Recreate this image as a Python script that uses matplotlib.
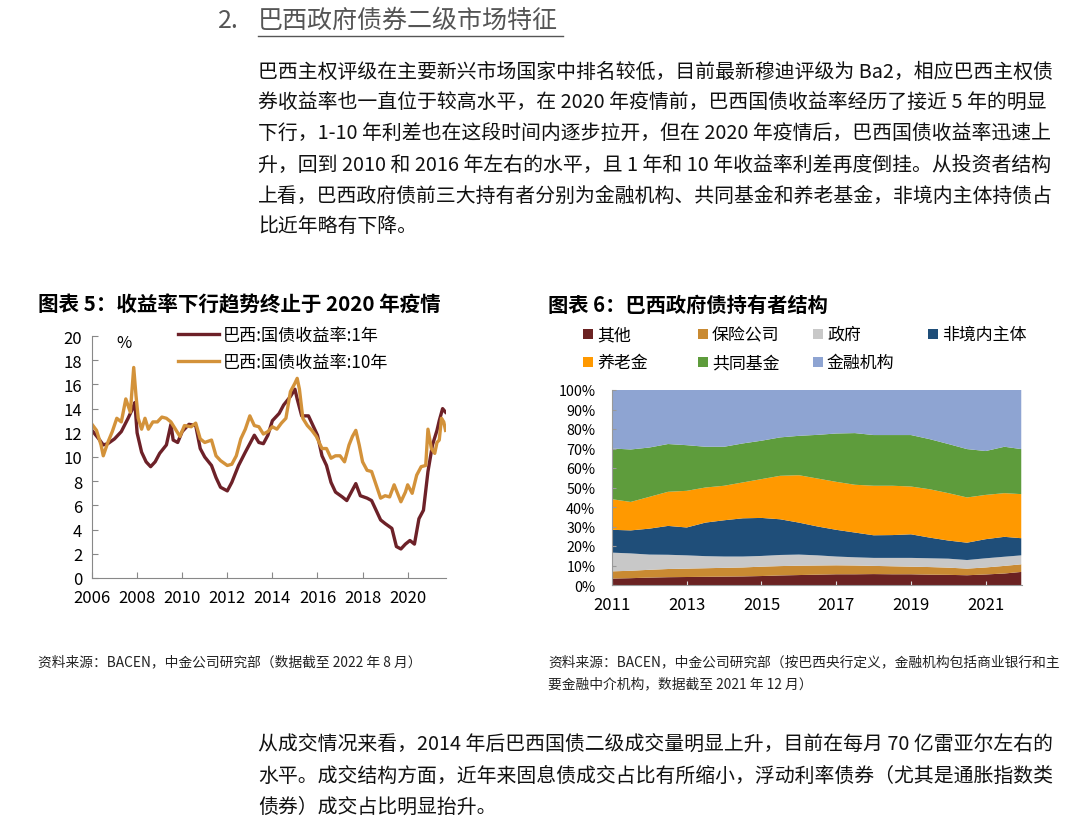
import matplotlib
matplotlib.use("Agg")
import matplotlib.pyplot as plt
from matplotlib.lines import Line2D
from matplotlib.patches import Rectangle

plt.rcParams['font.family'] = ['Noto Sans CJK SC', 'DejaVu Sans']

# ---- data: chart 5, Brazil government bond yields (%)
one_year_t = [2006.0, 2006.3, 2006.5, 2006.7, 2007.0, 2007.3, 2007.6, 2007.8, 2007.9, 2008.0,
              2008.2, 2008.4, 2008.6, 2008.8, 2009.0, 2009.3, 2009.5, 2009.6, 2009.8, 2010.0,
              2010.3, 2010.6, 2010.8, 2011.0, 2011.3, 2011.5, 2011.7, 2012.0, 2012.2, 2012.5,
              2012.8, 2013.0, 2013.2, 2013.4, 2013.6, 2013.8, 2014.0, 2014.3, 2014.5, 2014.8,
              2015.0, 2015.1, 2015.3, 2015.6, 2015.8, 2016.0, 2016.2, 2016.4, 2016.6, 2016.8,
              2017.1, 2017.3, 2017.5, 2017.7, 2017.9, 2018.2, 2018.4, 2018.6, 2018.8, 2019.0,
              2019.3, 2019.5, 2019.7, 2019.9, 2020.1, 2020.3, 2020.5, 2020.7, 2020.9, 2021.1,
              2021.3, 2021.4, 2021.55, 2021.68]
one_year = [12.2, 11.5, 11.0, 11.1, 11.5, 12.1, 13.2, 14.0, 14.5, 12.0,
            10.4, 9.6, 9.2, 9.6, 10.3, 11.0, 12.7, 11.4, 11.2, 12.1,
            12.7, 12.6, 10.7, 10.0, 9.3, 8.3, 7.5, 7.2, 7.9, 9.3,
            10.4, 11.1, 11.8, 11.2, 11.1, 11.8, 13.0, 13.6, 14.3, 15.0,
            15.6, 14.8, 13.4, 13.4, 12.6, 11.8, 10.1, 9.3, 7.9, 7.1,
            6.7, 6.4, 7.1, 7.8, 6.8, 6.6, 6.4, 5.6, 4.8, 4.5,
            4.1, 2.6, 2.4, 2.8, 3.1, 2.8, 4.9, 5.6, 8.8, 11.0,
            12.2, 13.0, 14.0, 13.7]

ten_year_t = [2006.0, 2006.2, 2006.4, 2006.5, 2006.7, 2006.9, 2007.1, 2007.3, 2007.5, 2007.7,
              2007.85, 2007.95, 2008.05, 2008.2, 2008.35, 2008.5, 2008.7, 2008.9, 2009.1, 2009.3,
              2009.5, 2009.7, 2009.9, 2010.1, 2010.4, 2010.6, 2010.8, 2011.0, 2011.3, 2011.5,
              2011.7, 2012.0, 2012.2, 2012.4, 2012.6, 2012.8, 2013.0, 2013.2, 2013.4, 2013.6,
              2013.8, 2014.0, 2014.2, 2014.4, 2014.6, 2014.8, 2015.0, 2015.1, 2015.2, 2015.35,
              2015.55, 2015.75, 2015.95, 2016.2, 2016.4, 2016.6, 2016.8, 2017.0, 2017.2, 2017.4,
              2017.55, 2017.7, 2017.85, 2018.0, 2018.2, 2018.4, 2018.6, 2018.8, 2019.0, 2019.2,
              2019.4, 2019.55, 2019.7, 2019.9, 2020.0, 2020.2, 2020.4, 2020.6, 2020.8, 2020.9,
              2021.05, 2021.2, 2021.3, 2021.4, 2021.5, 2021.6, 2021.68]
ten_year = [12.7, 12.2, 11.0, 10.1, 11.2, 12.1, 13.2, 12.9, 14.8, 13.7,
            17.4, 15.1, 13.2, 12.3, 13.2, 12.3, 12.9, 12.9, 13.3, 13.2,
            12.9, 12.3, 11.7, 12.6, 12.5, 12.8, 11.5, 11.2, 11.4, 10.1,
            9.7, 9.3, 9.4, 10.1, 11.5, 12.3, 13.4, 12.6, 12.5, 11.9,
            12.1, 12.5, 12.3, 12.8, 13.2, 15.4, 16.1, 16.5, 15.6, 13.2,
            12.6, 12.2, 11.7, 10.7, 10.7, 9.9, 10.1, 10.1, 9.6, 11.0,
            11.7, 12.2, 11.0, 9.6, 8.9, 8.8, 7.7, 6.6, 6.8, 6.7,
            7.7, 7.0, 6.3, 7.1, 7.7, 7.0, 8.5, 9.2, 9.3, 12.3,
            10.7, 10.3, 11.2, 11.4, 13.2, 12.9, 12.2]

# ---- data: chart 6, holders of Brazilian government debt (% share)
holder_t = [2011.0, 2011.5, 2012.0, 2012.5, 2013.0, 2013.5, 2014.0, 2014.5, 2015.0, 2015.5,
            2016.0, 2016.5, 2017.0, 2017.5, 2018.0, 2018.5, 2019.0, 2019.5, 2020.0, 2020.5,
            2021.0, 2021.5, 2021.95]
other = [3.3, 3.5, 3.8, 4.0, 4.1, 4.2, 4.3, 4.4, 4.6, 4.9, 5.1, 5.3, 5.5, 5.5, 5.6, 5.5,
         5.5, 5.3, 5.2, 5.0, 5.4, 5.9, 6.7]
insurance = [3.7, 3.8, 4.0, 4.2, 4.3, 4.4, 4.5, 4.6, 4.8, 4.8, 4.8, 4.7, 4.6, 4.5, 4.2, 4.1,
             3.9, 3.9, 3.7, 3.4, 3.6, 3.9, 3.9]
government = [9.6, 8.9, 7.8, 7.3, 6.8, 6.2, 5.8, 5.6, 5.5, 5.7, 5.7, 5.2, 4.5, 4.2, 4.1, 4.3,
              4.5, 4.5, 4.6, 4.4, 4.7, 4.7, 4.6]
non_resident = [11.7, 11.8, 13.3, 14.8, 14.3, 17.2, 18.6, 19.6, 19.5, 18.3, 16.4, 14.8, 13.7,
                12.7, 11.6, 11.7, 12.1, 10.6, 9.3, 8.9, 9.8, 10.2, 8.8]
pension = [15.7, 14.6, 16.3, 17.5, 18.8, 18.0, 17.7, 18.4, 19.9, 22.3, 24.3, 24.6, 24.6, 24.5,
           25.4, 25.3, 24.5, 24.8, 24.3, 23.2, 22.7, 22.4, 22.6]
mutual_fund = [26.0, 26.9, 25.3, 24.5, 23.4, 20.9, 20.0, 20.0, 19.7, 19.7, 20.2, 22.4, 24.8,
               26.5, 26.0, 26.0, 26.4, 25.7, 25.2, 24.8, 22.5, 23.8, 23.1]
financial = [30.0, 30.5, 29.5, 27.7, 28.3, 29.1, 29.1, 27.4, 26.0, 24.3, 23.5, 23.0, 22.3,
             22.1, 23.1, 23.1, 23.1, 25.2, 27.7, 30.3, 31.3, 29.1, 30.3]
holder_names = ['其他', '保险公司', '政府', '非境内主体', '养老金', '共同基金', '金融机构']
holder_colors = ['#6b2222', '#c98a32', '#c8c8c8', '#1f4e79', '#ff9900', '#5e9c3c', '#8ea4d2']

W, H = 1080, 828
fig = plt.figure(figsize=(W / 100, H / 100), dpi=100)


def fx(px):
    return px / W


def fy(py):
    return 1 - py / H


def ptext(x, y, s, size=13, **kw):
    kw.setdefault('va', 'center')
    kw.setdefault('ha', 'left')
    return fig.text(fx(x), fy(y), s, fontsize=size, **kw)


# ---- page heading and paragraphs
ptext(218, 21, '2.', size=18, color='#555555')
ptext(258, 21, '巴西政府债券二级市场特征', size=18, color='#555555')
fig.add_artist(Line2D([fx(258), fx(563)], [fy(37), fy(37)], color='#555555', lw=1))

para1 = ['巴西主权评级在主要新兴市场国家中排名较低，目前最新穆迪评级为 Ba2，相应巴西主权债',
         '券收益率也一直位于较高水平，在 2020 年疫情前，巴西国债收益率经历了接近 5 年的明显',
         '下行，1-10 年利差也在这段时间内逐步拉开，但在 2020 年疫情后，巴西国债收益率迅速上',
         '升，回到 2010 和 2016 年左右的水平，且 1 年和 10 年收益率利差再度倒挂。从投资者结构',
         '上看，巴西政府债前三大持有者分别为金融机构、共同基金和养老基金，非境内主体持债占',
         '比近年略有下降。']
for i, line in enumerate(para1):
    ptext(258, 72 + 31 * i, line, size=14.3, color='#111111')

para2 = ['从成交情况来看，2014 年后巴西国债二级成交量明显上升，目前在每月 70 亿雷亚尔左右的',
         '水平。成交结构方面，近年来固息债成交占比有所缩小，浮动利率债券（尤其是通胀指数类',
         '债券）成交占比明显抬升。']
for i, line in enumerate(para2):
    ptext(258, 745 + 31 * i, line, size=14.3, color='#111111')

# ---- chart titles and sources
ptext(38, 305, '图表 5：收益率下行趋势终止于 2020 年疫情', size=14.8, weight='bold')
ptext(548, 305, '图表 6：巴西政府债持有者结构', size=14.6, weight='bold')
ptext(38, 662, '资料来源：BACEN，中金公司研究部（数据截至 2022 年 8 月）', size=9.9, color='#222222')
ptext(548, 662, '资料来源：BACEN，中金公司研究部（按巴西央行定义，金融机构包括商业银行和主',
      size=9.9, color='#222222')
ptext(548, 684, '要金融中介机构，数据截至 2021 年 12 月）', size=9.9, color='#222222')

# ---- chart 5: yields
ax1 = fig.add_axes([fx(92), fy(579), fx(446) - fx(92), fy(337) - fy(579)])
l1 = ax1.plot(one_year_t, one_year, color='#6d2128', lw=2.4, label='巴西:国债收益率:1年')
l2 = ax1.plot(ten_year_t, ten_year, color='#d3923a', lw=2.4, label='巴西:国债收益率:10年')
ax1.set_xlim(2006, 2021.7)
ax1.set_ylim(0, 20)
ax1.set_xticks(range(2006, 2021, 2))
ax1.set_yticks(range(0, 21, 2))
for s in ['top', 'right']:
    ax1.spines[s].set_visible(False)
for s in ['left', 'bottom']:
    ax1.spines[s].set_color('#888888')
ax1.tick_params(direction='in', length=4, color='#888888', labelsize=12)
ax1.tick_params(axis='x', pad=8)
ax1.tick_params(axis='y', pad=7)
ax1.text(2007.4, 19.5, '%', fontsize=12, ha='center', va='center')
lns = l1 + l2
ax1.legend(lns, [l.get_label() for l in lns], loc='upper left', frameon=False,
           bbox_to_anchor=(fx(178), fy(327)), bbox_transform=fig.transFigure,
           fontsize=12.3, handlelength=2.4, handletextpad=0.2, labelspacing=0.55,
           borderpad=0, borderaxespad=0)

# ---- chart 6: holder structure
ax2 = fig.add_axes([fx(612), fy(586), fx(1022) - fx(612), fy(391) - fy(586)])
layers = [other, insurance, government, non_resident, pension, mutual_fund, financial]
ax2.stackplot(holder_t, [[v / 100 for v in s] for s in layers], colors=holder_colors, lw=0)
ax2.set_xlim(2011, 2021.97)
ax2.set_ylim(0, 1)
ax2.set_xticks(range(2011, 2022, 2))
ax2.set_yticks([i / 10 for i in range(11)])
ax2.set_yticklabels(['%d%%' % (i * 10) for i in range(11)])
for s in ['top', 'right']:
    ax2.spines[s].set_visible(False)
for s in ['left', 'bottom']:
    ax2.spines[s].set_color('#999999')
ax2.tick_params(axis='y', direction='in', length=3, color='#999999', labelsize=10.3, pad=12)
ax2.tick_params(axis='x', direction='in', length=3, color='#dddddd', labelsize=12, pad=8)

# legend for chart 6, 4 columns x 2 rows
leg_x = [588, 703, 818, 933]
leg_y = [335, 363]
for i, (name, col) in enumerate(zip(holder_names, holder_colors)):
    r, c = divmod(i, 4)
    x, y = leg_x[c], leg_y[r]
    fig.add_artist(Rectangle((fx(x - 5), fy(y + 5)), fx(10), 10 / H, color=col, lw=0))
    ptext(x + 9, y, name, size=12.2)

fig.savefig('out.png', dpi=100)
